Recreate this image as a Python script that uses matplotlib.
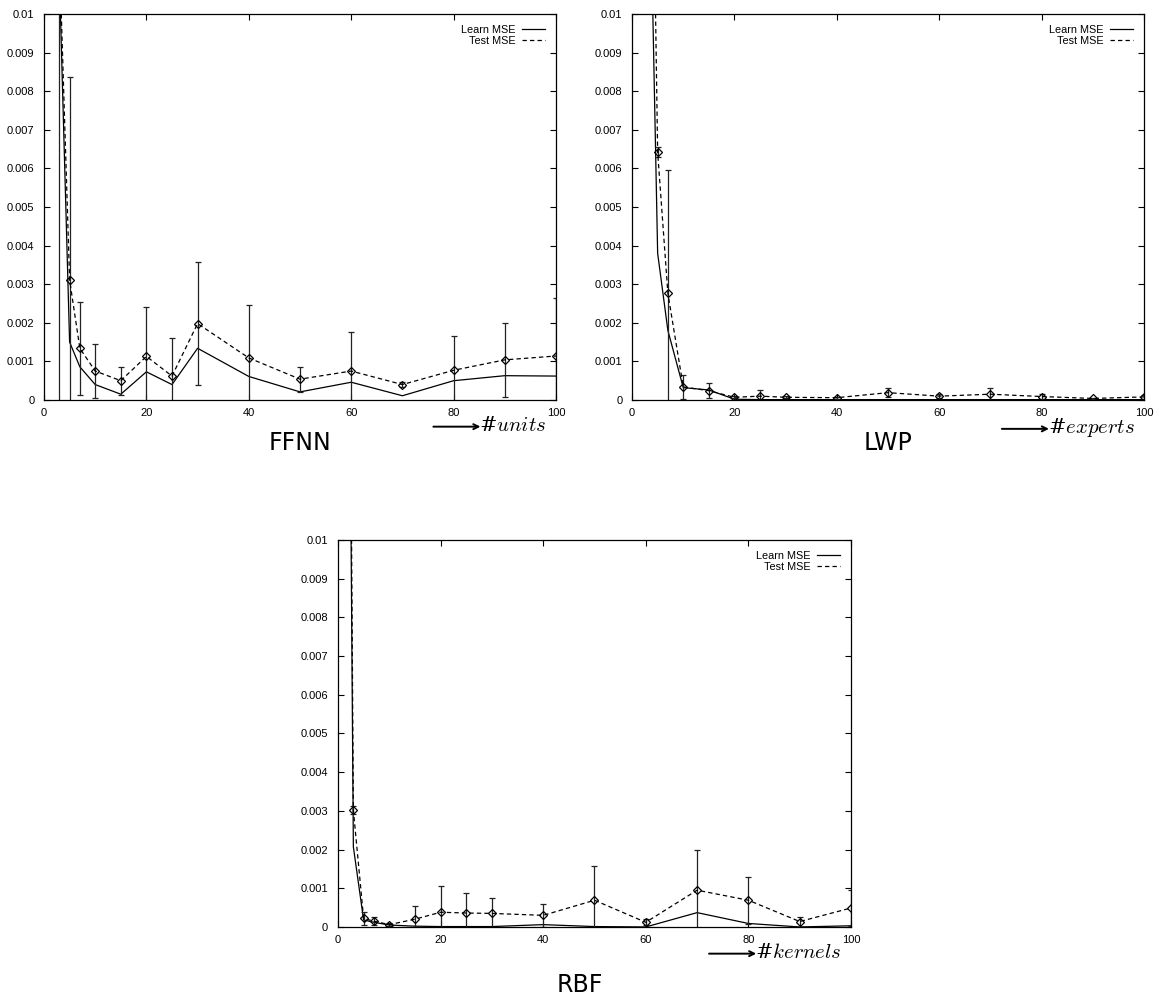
import matplotlib
matplotlib.use("Agg")
import matplotlib.pyplot as plt
from matplotlib.lines import Line2D
import numpy as np

plt.rcParams['font.family'] = ['Liberation Sans', 'DejaVu Sans']
plt.rcParams['mathtext.fontset'] = 'cm'

# FFNN: MSE vs number of hidden units
ffnn_x = [3, 5, 7, 10, 15, 20, 25, 30, 40, 50, 60, 70, 80, 90, 100]
ffnn_learn = [0.0110, 0.00150, 0.00086, 0.00040, 0.00015, 0.00073, 0.00040, 0.00134,
              0.00061, 0.00021, 0.00046, 0.00011, 0.00050, 0.00063, 0.00062]
ffnn_test = [0.0116, 0.00311, 0.00134, 0.00075, 0.00050, 0.00113, 0.00062, 0.00198,
             0.00109, 0.00054, 0.00075, 0.00040, 0.00077, 0.00104, 0.00114]
ffnn_err = [0.0120, 0.00525, 0.00120, 0.00070, 0.00036, 0.00128, 0.00099, 0.00160,
            0.00138, 0.00032, 0.00100, 0.00006, 0.00090, 0.00095, 0.00149]

# LWP: MSE vs number of experts
lwp_x = [3, 5, 7, 10, 15, 20, 25, 30, 40, 50, 60, 70, 80, 90, 100]
lwp_learn = [0.0170, 0.00380, 0.00180, 0.00032, 0.00026, 0.00002, 0.00001, 0.00001,
             0.00001, 0.00001, 0.00001, 0.00001, 0.00001, 0.00001, 0.00001]
lwp_test = [0.0240, 0.00642, 0.00276, 0.00034, 0.00024, 0.00007, 0.00010, 0.00007,
            0.00006, 0.00019, 0.00010, 0.00015, 0.00009, 0.00004, 0.00008]
lwp_err = [0.0020, 0.00013, 0.00319, 0.00032, 0.00019, 0.00003, 0.00016, 0.00003,
           0.00003, 0.00011, 0.00005, 0.00015, 0.00006, 0.00002, 0.00005]

# RBF: MSE vs number of kernels
rbf_x = [2, 3, 5, 7, 10, 15, 20, 25, 30, 40, 50, 60, 70, 80, 90, 100]
rbf_learn = [0.0200, 0.00207, 0.00018, 0.00012, 0.00005, 0.00002, 0.00001, 0.00001,
             0.00001, 0.00006, 0.00001, 0.00000, 0.00037, 0.00009, 0.00000, 0.00003]
rbf_test = [0.0230, 0.00302, 0.00022, 0.00015, 0.00006, 0.00020, 0.00038, 0.00036,
            0.00035, 0.00030, 0.00069, 0.00012, 0.00095, 0.00069, 0.00014, 0.00049]
rbf_err = [0.0020, 0.00010, 0.00016, 0.00010, 0.00003, 0.00035, 0.00067, 0.00051,
           0.00040, 0.00030, 0.00089, 0.00008, 0.00104, 0.00061, 0.00013, 0.00047]

yticks = [0, 0.001, 0.002, 0.003, 0.004, 0.005, 0.006, 0.007, 0.008, 0.009, 0.01]
ytick_labels = ['0', '0.001', '0.002', '0.003', '0.004', '0.005',
                '0.006', '0.007', '0.008', '0.009', '0.01']
xticks = [0, 20, 40, 60, 80, 100]

fig = plt.figure(figsize=(11.61, 10.02), dpi=100)

dash = (0, (3.5, 2.5))


def panel(rect, x, learn, test, err, xlabel):
    ax = fig.add_axes(rect)
    ax.plot(x, learn, color='black', lw=0.9)
    ax.errorbar(x, test, yerr=err, color='black', lw=0.9, ls=dash,
                marker='D', ms=3.8, mfc='none', mew=0.9,
                ecolor='#222222', elinewidth=0.9, capsize=2.2, capthick=0.9)
    ax.set_xlim(0, 100)
    ax.set_ylim(0, 0.01)
    ax.set_xticks(xticks)
    ax.set_yticks(yticks)
    ax.set_yticklabels(ytick_labels)
    ax.tick_params(direction='in', top=True, right=True, length=4,
                   width=0.8, labelsize=8)
    ax.tick_params(axis='y', pad=7)
    ax.tick_params(axis='x', pad=5.5)
    for s in ax.spines.values():
        s.set_linewidth(0.9)
    handles = [Line2D([], [], color='black', lw=0.9),
               Line2D([], [], color='black', lw=0.9, ls=dash)]
    ax.legend(handles, ['Learn MSE', 'Test MSE'], loc='upper right',
              frameon=False, markerfirst=False, fontsize=7.8,
              handlelength=2.1, handletextpad=0.6, labelspacing=0.1,
              borderaxespad=0.7, borderpad=0.3)
    # "long arrow  #name" label under the right end of the x axis
    t = ax.text(0.982, -0.042, '#$' + xlabel + '$', transform=ax.transAxes,
                ha='right', va='top', fontsize=15, family='DejaVu Serif')
    fig.canvas.draw()
    bb = t.get_window_extent().transformed(ax.transAxes.inverted())
    ymid = bb.y0 + 0.45 * (bb.y1 - bb.y0)
    ax.annotate('', xy=(bb.x0 + 0.002, ymid), xytext=(bb.x0 - 0.09, ymid),
                xycoords='axes fraction', textcoords='axes fraction',
                arrowprops=dict(arrowstyle='->', lw=1.4, color='black',
                                shrinkA=0, shrinkB=0, mutation_scale=9))
    return ax


panel([0.0379, 0.6008, 0.441, 0.3852], ffnn_x, ffnn_learn, ffnn_test, ffnn_err, 'units')
panel([0.5444, 0.6008, 0.441, 0.3852], lwp_x, lwp_learn, lwp_test, lwp_err, 'experts')
panel([0.2911, 0.0749, 0.4419, 0.3862], rbf_x, rbf_learn, rbf_test, rbf_err, 'kernels')

fig.text(300 / 1161, 1 - 443 / 1002, 'FFNN', ha='center', va='center',
         fontsize=17, family='DejaVu Sans')
fig.text(888 / 1161, 1 - 443 / 1002, 'LWP', ha='center', va='center',
         fontsize=17, family='DejaVu Sans')
fig.text(580 / 1161, 1 - 985 / 1002, 'RBF', ha='center', va='center',
         fontsize=17, family='DejaVu Sans')

fig.savefig('out.png', dpi=100)
